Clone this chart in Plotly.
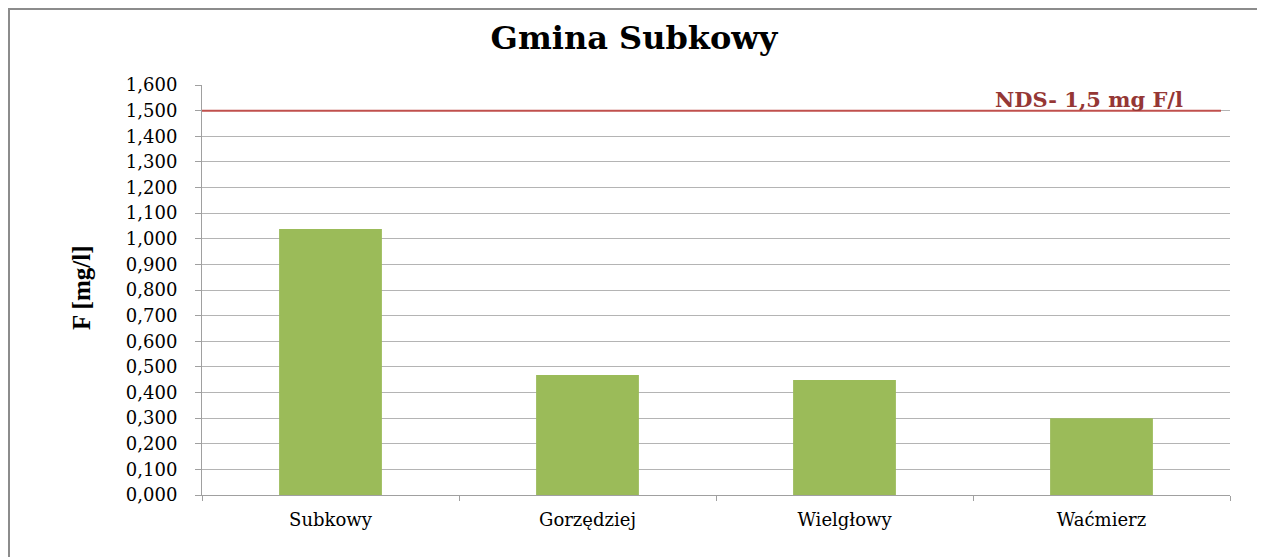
import plotly.graph_objects as go

categories = ["Subkowy", "Gorzędziej", "Wielgłowy", "Waćmierz"]
values = [1.038, 0.468, 0.449, 0.300]
nds_value = 1.5
nds_label = "NDS- 1,5 mg F/l"
title = "Gmina Subkowy"
y_title = "F [mg/l]"
tick_vals = [i / 10 for i in range(17)]

# page body has an 8px margin; figure sized to fit window
W, H = 1257, 549
L, R, T, B = 194, 35, 77, 62
pw = W - L - R
ph = H - T - B
FONT = "DejaVu Serif"

def px_to_paper_x(px):
    return (px - L) / pw

def px_to_paper_y(py):
    return (H - B - py) / ph

fig = go.Figure()
fig.add_trace(go.Bar(
    x=categories, y=values, width=0.4,
    marker=dict(color="#9BBB59", line=dict(width=0)),
))

fig.update_layout(
    width=W, height=H,
    margin=dict(l=L, r=R, t=T, b=B),
    paper_bgcolor="white", plot_bgcolor="white",
    separators=",.",
    showlegend=False,
    title=dict(text="<b>" + title + "</b>", x=px_to_paper_x(626), xref="paper", xanchor="center",
               y=1 - 30 / H, yanchor="middle",
               font=dict(family=FONT, size=32, color="black")),
    xaxis=dict(
        type="category", tickson="boundaries", ticks="outside", ticklen=5,
        tickcolor="#A0A0A0", showline=True, linecolor="#A0A0A0", linewidth=1,
        showgrid=False, ticklabelstandoff=8,
        tickfont=dict(family=FONT, size=18, color="black"),
    ),
    yaxis=dict(
        range=[0, 1.6], tickvals=tick_vals, tickformat=".3f",
        ticks="outside", ticklen=6, tickcolor="#A0A0A0",
        showline=True, linecolor="#A0A0A0", linewidth=1,
        showgrid=True, gridcolor="#B4B4B4", gridwidth=1, zeroline=False,
        ticklabelstandoff=14,
        tickfont=dict(family=FONT, size=18, color="black"),
    ),
    shapes=[
        dict(type="line", xref="paper", yref="y", x0=0, x1=px_to_paper_x(1213),
             y0=nds_value, y1=nds_value, line=dict(color="#C0504D", width=2)),
        dict(type="rect", xref="paper", yref="paper",
             x0=px_to_paper_x(1), x1=px_to_paper_x(1254),
             y0=px_to_paper_y(600), y1=px_to_paper_y(1),
             line=dict(color="#8C8C8C", width=2), fillcolor="rgba(0,0,0,0)", layer="below"),
    ],
    annotations=[
        dict(text="<b>" + nds_label + "</b>", xref="paper", yref="paper",
             x=px_to_paper_x(1081), y=px_to_paper_y(91), xanchor="center", yanchor="middle",
             showarrow=False, font=dict(family=FONT, size=21, color="#953735")),
        dict(text="<b>" + y_title + "</b>", xref="paper", yref="paper", textangle=-90,
             x=px_to_paper_x(73), y=px_to_paper_y(280), xanchor="center", yanchor="middle",
             showarrow=False, font=dict(family="Liberation Serif", size=25, color="black")),
    ],
)

fig.write_html("out.html")
